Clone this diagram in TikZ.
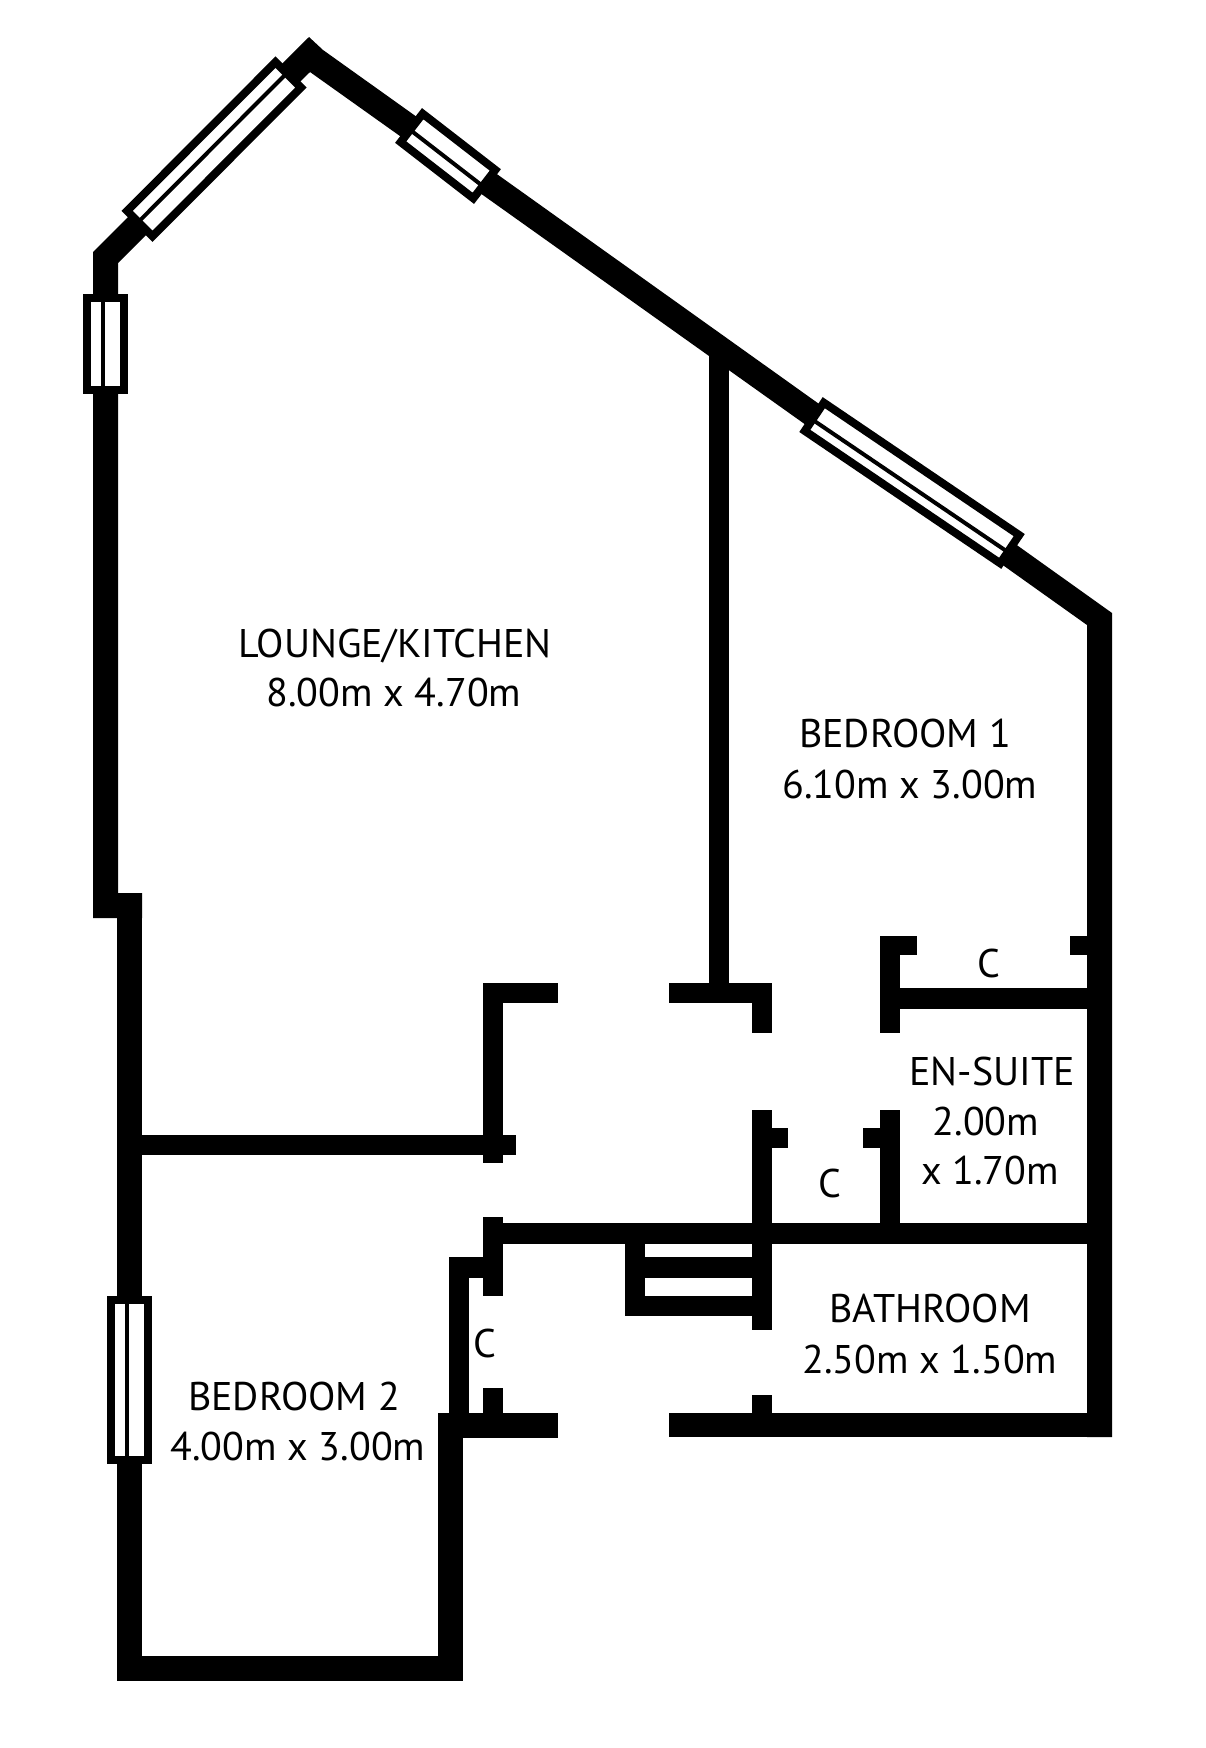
\documentclass[tikz,border=0pt]{standalone}
\usepackage{fontspec}
\setmainfont{PT Sans}
\usetikzlibrary{calc}
% window: corners along the frame, then where the glazing bar sits
\newcommand{\windowpane}[5]{
    \draw[windowframe] #1 -- #2 -- #3 -- #4 -- cycle;
    \draw[windowbar] ($#1!#5!#2$) -- ($#4!#5!#3$);
}
\begin{document}
\begin{tikzpicture}[x=1pt,y=-1pt]
        \tikzstyle{every node}=[inner sep=0pt, anchor=base, font=\fontsize{40}{48}\selectfont]
        \tikzstyle{wall}=[fill=black]
        \tikzstyle{windowframe}=[draw=black, fill=white, line width=8pt, miter limit=10]
        \tikzstyle{windowbar}=[draw=black, line width=4pt]
        \useasboundingbox (0,0) rectangle (1206,1748);
        % outer shell
        \fill[wall] (93,918) -- (93,252) -- (309,37) -- (323,50) -- (1112,613) -- (1112,1437) -- (1087,1437) -- (1087,625) -- (310,72) -- (118,263) -- (118,893) -- (142,893) -- (142,918) -- cycle;
        % straight walls, left/top/right/bottom
        \foreach \xa/\ya/\xb/\yb in {117/893/142/1681, 117/1656/463/1681, 438/1413/463/1681, 438/1413/558/1438,
            669/1413/1112/1437, 483/983/503/1163, 483/983/558/1003, 142/1135/516/1155,
            669/983/772/1003, 709/350/729/1003, 752/983/772/1033,
            880/936/900/1033, 900/936/917/955, 1070/936/1090/955, 900/988/1090/1009,
            752/1110/772/1330, 772/1128/788/1148, 880/1110/900/1244, 863/1128/880/1148,
            483/1223/1090/1244, 483/1217/503/1296, 449/1257/483/1278, 449/1257/469/1413,
            483/1388/503/1413, 752/1395/772/1413,
            625/1223/645/1316, 625/1257/752/1278, 625/1296/752/1316}
            \fill[wall] (\xa,\ya) rectangle (\xb,\yb);
        % windows
        \windowpane{(87,298)}{(124,298)}{(124,390)}{(87,390)}{0.44}
        \windowpane{(275.5,62.1)}{(300.9,87.5)}{(152.5,236.3)}{(127.1,210.9)}{0.44}
        \windowpane{(422.7,113.7)}{(400.7,142.1)}{(473.3,198.3)}{(495.3,169.9)}{0.57}
        \windowpane{(823.8,402.7)}{(804.8,430.9)}{(1000.2,563.3)}{(1019.2,535.1)}{0.6}
        \windowpane{(111,1300)}{(147.5,1300)}{(147.5,1460)}{(111,1460)}{0.44}
        % room labels
        \node (lounge) at (395,657) {LOUNGE/KITCHEN};
        \node (loungesize) at (394,706) {8.00m x 4.70m};
        \node (bedone) at (905,747) {BEDROOM 1};
        \node (bedonesize) at (910,798) {6.10m x 3.00m};
        \node (ensuite) at (992,1085) {EN-SUITE};
        \node (ensuitewidth) at (986,1135) {2.00m};
        \node (ensuitedepth) at (990,1184) {x 1.70m};
        \node (bathroom) at (930,1322) {BATHROOM};
        \node (bathroomsize) at (930,1373) {2.50m x 1.50m};
        \node (bedtwo) at (294,1410) {BEDROOM 2};
        \node (bedtwosize) at (298,1460) {4.00m x 3.00m};
        % cupboards
        \node (cupa) at (989,977) {C};
        \node (cupb) at (830,1197) {C};
        \node (cupc) at (485,1357) {C};
    \end{tikzpicture}
\end{document}
